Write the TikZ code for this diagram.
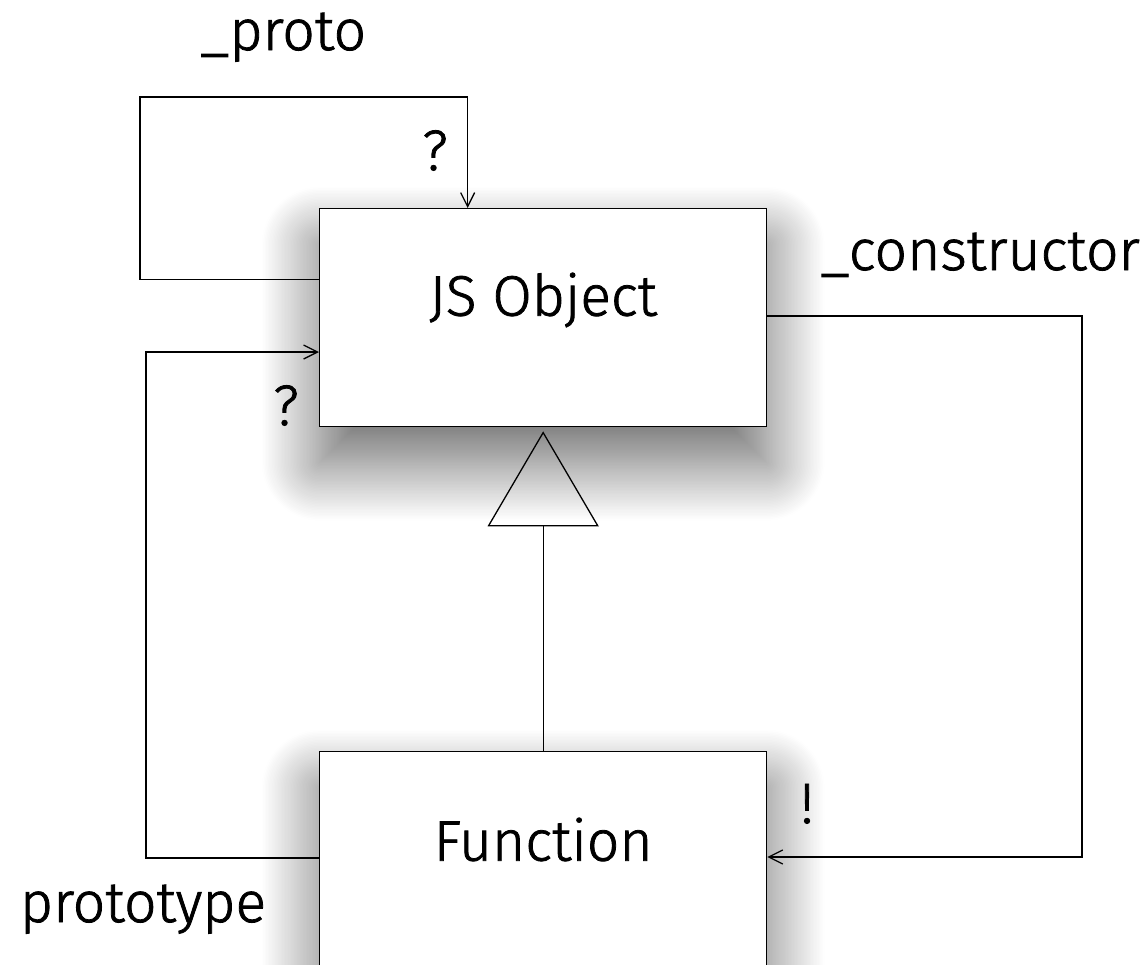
\documentclass[tikz,border=0pt]{standalone}
\usepackage{fontspec}
\setmainfont{Fira Sans}[UprightFont=* Light, UprightFeatures={FakeBold=1.4}]
\usetikzlibrary{arrows.meta,shadows.blur}

\tikzset{
  lbl/.style={font=\fontsize{57}{70}\selectfont, inner sep=0pt, anchor=base},
  classbox/.style={draw=black, line width=1.3pt, fill=white, inner sep=0pt,
    minimum width=447pt, anchor=north west,
    font=\fontsize{57}{70}\selectfont,
    blur shadow={shadow xshift=0pt, shadow yshift=-36pt,
      shadow blur radius=58pt, shadow blur steps=40, shadow opacity=60}},
  link/.style={draw=black, line width=1.3pt,
    -{Straight Barb[length=14pt,width=14pt,line width=1.3pt]}},
  inherit/.style={draw=black, line width=1.3pt,
    -{Triangle[open,length=95pt,width=111pt,line width=1.3pt]}, shorten >=4pt},
}

\begin{document}
\begin{tikzpicture}[x=1pt,y=-1pt]
  \useasboundingbox (0,0) rectangle (1148,964);

  % the two classes
  \node[classbox, text height=107pt, text depth=111pt] (obj) at (319,208) {JS Object};
  \node[classbox, text height=109pt, text depth=260pt] (fn) at (319,751) {Function};

  % corner points of the routed connectors
  \coordinate (protoA) at (140,97);
  \coordinate (protoB) at (146,352);
  \coordinate (ctorA) at (1082,857);

  % _proto: self reference of JS Object
  \draw[link] ([yshift=38pt]obj.north west |- obj.west) -| (protoA)
     -| ([xshift=-75.5pt]obj.north);

  % prototype: Function -> JS Object
  \draw[link] ([yshift=-107pt]fn.north west) -| (protoB)
     -- ([yshift=-144pt]obj.north west);

  % _constructor: JS Object -> Function
  \draw[link] ([yshift=-108pt]obj.north east) -| (ctorA)
     -- ([yshift=-106pt]fn.north east);

  % generalisation
  \draw[inherit] (fn.north) -- (obj.south);

  % labels
  \node[lbl] (lproto) at (283,50) {\_proto};
  \node[lbl] (qtop) at (435,170) {?};
  \node[lbl] (lctor) at (980,270) {\_constructor};
  \node[lbl] (qleft) at (286,425) {?};
  \node[lbl] (bang) at (807,823) {!};
  \node[lbl] (lprot) at (143,922) {prototype};
\end{tikzpicture}
\end{document}
